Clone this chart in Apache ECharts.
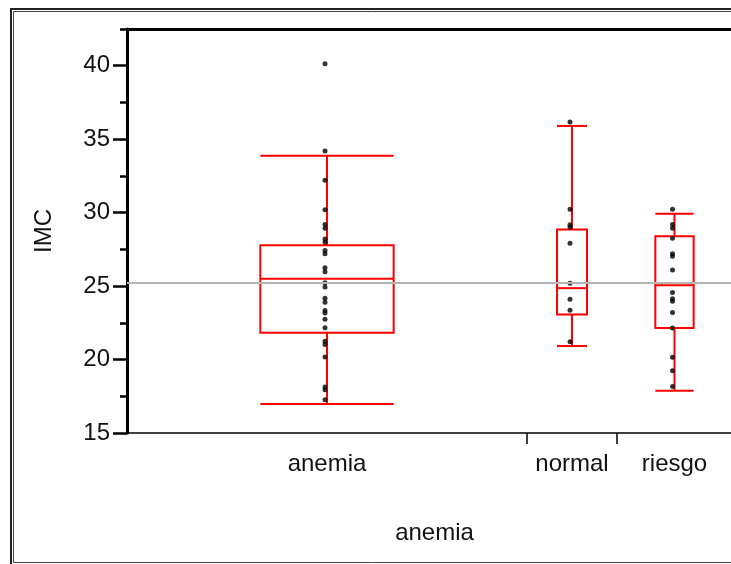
<!DOCTYPE html>
<html>
<head>
<meta charset="utf-8">
<title>IMC por anemia</title>
<script src="https://cdn.jsdelivr.net/npm/echarts@6/dist/echarts.min.js"></script>
<style>
  html, body { margin: 0; padding: 0; background: #fff; }
  #chart { width: 731px; height: 564px; }
</style>
</head>
<body>
<div id="chart"></div>
<script>
  // grupos y ancho relativo de cada uno en el eje x (como en JMP, segun n)
  const groups = ['anemia', 'normal', 'riesgo']
  const groupShare = [400, 90, 115]

  // cuantiles: [bigote inf, Q1, mediana, Q3, bigote sup]
  const anemiaBox = [16.97, 21.83, 25.5, 27.78, 33.88]
  const normalBox = [20.92, 23.07, 24.86, 28.85, 35.9]
  const riesgoBox = [17.88, 22.14, 25.06, 28.39, 29.92]

  // observaciones de IMC por grupo
  const anemiaImc = [40.13, 34.2, 32.2, 30.2, 29.2, 28.94, 28.2, 27.98, 27.42, 27.2,
    26.24, 25.97, 25.22, 24.93, 24.18, 23.9, 23.34, 23.16, 22.75, 22.16,
    21.25, 21.03, 20.17, 18.13, 17.95, 17.27]
  const normalImc = [36.17, 30.23, 29.17, 29.0, 27.92, 25.2, 24.11, 23.36, 21.21]
  const riesgoImc = [30.23, 29.19, 28.94, 28.26, 27.2, 27.03, 26.1, 24.56, 24.13, 23.97,
    23.2, 22.14, 20.15, 19.24, 18.17]

  // media global (linea gris)
  const grandMean = 25.2

  const yTicks = [15, 20, 25, 30, 35, 40]
  const yMinorTicks = [17.5, 22.5, 27.5, 32.5, 37.5, 42.5]

  const boxes = [anemiaBox, normalBox, riesgoBox]
  const points = [anemiaImc, normalImc, riesgoImc]

  let starts = []
  let acc = 0
  groupShare.forEach(w => { starts.push(acc); acc += w })
  const total = acc
  const centers = starts.map((s, i) => s + groupShare[i] / 2)
  const bounds = starts.slice(1)

  const boxData = boxes.map((b, i) => [starts[i], groupShare[i]].concat(b))
  let dotData = []
  points.forEach((arr, i) => {
    arr.forEach(v => dotData.push([centers[i] - 2, v]))
  })

  const font = "'Liberation Sans', Arial, sans-serif"
  const red = '#ff0000'

  const chart = echarts.init(document.getElementById('chart'))

  chart.setOption({
    animation: false,
    backgroundColor: '#fff',
    grid: {left: 127, top: 29, width: total, height: 404, containLabel: false, outerBoundsMode: 'none'},
    graphic: [
      {type: 'rect', shape: {x: 11, y: 9, width: 800, height: 600}, style: {fill: null, stroke: '#222', lineWidth: 2}, silent: true},
      {type: 'rect', shape: {x: 13.5, y: 11.5, width: 800, height: 551}, style: {fill: null, stroke: '#444', lineWidth: 1}, silent: true}
    ],
    xAxis: [{
      type: 'value',
      min: 0,
      max: total,
      position: 'bottom',
      name: 'anemia',
      nameLocation: 'middle',
      nameGap: 88,
      nameTextStyle: {fontFamily: font, fontSize: 24, color: '#111', padding: [0, 0, 0, 10]},
      splitLine: {show: false},
      axisLine: {lineStyle: {color: '#000', width: 1.5}},
      axisTick: {customValues: bounds, length: 11, lineStyle: {color: '#000', width: 1.5}},
      axisLabel: {
        customValues: centers,
        margin: 19,
        fontFamily: font,
        fontSize: 24,
        color: '#111',
        formatter: v => groups[centers.indexOf(v)]
      }
    }, {
      type: 'value',
      min: 0,
      max: total,
      position: 'top',
      splitLine: {show: false},
      axisLine: {lineStyle: {color: '#000', width: 3}},
      axisTick: {show: false},
      axisLabel: {show: false}
    }],
    yAxis: [{
      type: 'value',
      min: 15,
      max: 42.5,
      interval: 5,
      name: 'IMC',
      nameLocation: 'middle',
      nameGap: 71,
      nameTextStyle: {fontFamily: font, fontSize: 24, color: '#111'},
      splitLine: {show: false},
      axisLine: {lineStyle: {color: '#000', width: 3}},
      axisTick: {customValues: yTicks, length: 14, lineStyle: {color: '#000', width: 2.5}},
      axisLabel: {customValues: yTicks, margin: 17, fontFamily: font, fontSize: 24, color: '#111'}
    }, {
      type: 'value',
      min: 15,
      max: 42.5,
      position: 'left',
      offset: 0,
      splitLine: {show: false},
      axisLine: {show: false},
      axisTick: {customValues: yMinorTicks, length: 7, lineStyle: {color: '#000', width: 2.5}},
      axisLabel: {show: false}
    }],
    series: [{
      // media global
      type: 'line',
      data: [],
      z: 1,
      markLine: {
        silent: true,
        symbol: 'none',
        label: {show: false},
        lineStyle: {color: '#b4b4b4', width: 2, type: 'solid'},
        data: [{yAxis: grandMean}]
      }
    }, {
      type: 'custom',
      z: 3,
      data: boxData,
      encode: {x: 0, y: [2, 3, 4, 5, 6]},
      renderItem(params, api) {
        const start = api.value(0)
        const w = api.value(1)
        const cx = start + w / 2
        const hw = w / 6
        const lo = api.coord([cx - hw, api.value(2)])
        const hi = api.coord([cx + hw, api.value(6)])
        const q1 = api.coord([cx, api.value(3)])[1]
        const med = api.coord([cx, api.value(4)])[1]
        const q3 = api.coord([cx, api.value(5)])[1]
        const xm = api.coord([cx, 0])[0]
        const x1 = lo[0]
        const x2 = hi[0]
        const st = {stroke: red, lineWidth: 2, fill: null}
        const ln = (a, b, c, d) => ({type: 'line', shape: {x1: a, y1: b, x2: c, y2: d}, style: st})
        return {
          type: 'group',
          children: [
            ln(xm, hi[1], xm, q3),
            ln(xm, q1, xm, lo[1]),
            ln(x1, hi[1], x2, hi[1]),
            ln(x1, lo[1], x2, lo[1]),
            {type: 'rect', shape: {x: x1, y: q3, width: x2 - x1, height: q1 - q3}, style: st},
            ln(x1, med, x2, med)
          ]
        }
      }
    }, {
      type: 'scatter',
      z: 4,
      data: dotData,
      symbol: 'circle',
      symbolSize: 5,
      itemStyle: {color: '#000'}
    }]
  })
</script>
</body>
</html>
